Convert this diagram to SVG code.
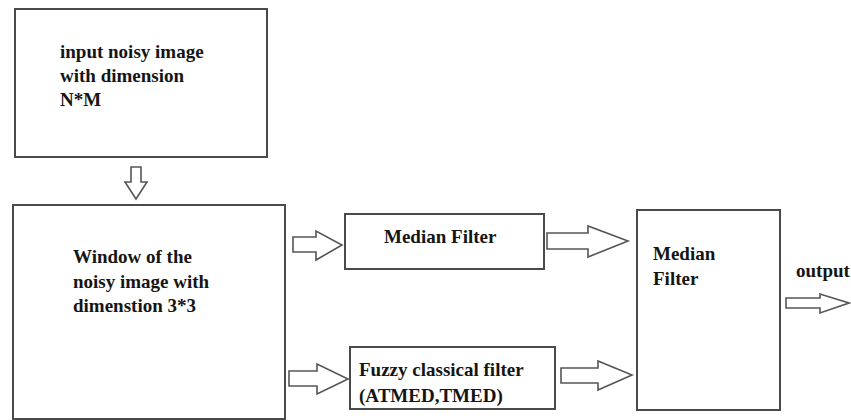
<svg xmlns="http://www.w3.org/2000/svg" width="851" height="420" viewBox="0 0 851 420">
<style>
.box{fill:#fff;stroke:#4a4a4a;stroke-width:2}
.arr{fill:#fff;stroke:#555;stroke-width:1.6;stroke-linejoin:miter}
.t{font-family:'Liberation Serif','Times New Roman',serif;font-weight:bold;font-size:19px;fill:#151515}
</style>
<rect width="851" height="420" fill="#fff"/>
<g id="input">
<rect class="box" x="15" y="9" width="252" height="148"/>
<text class="t" x="60" y="58">input noisy image</text>
<text class="t" x="60" y="82">with dimension</text>
<text class="t" x="60" y="106">N*M</text>
</g>
<g id="window">
<rect class="box" x="13" y="205" width="272" height="214"/>
<text class="t" x="73" y="263">Window of the</text>
<text class="t" x="73" y="288">noisy image with</text>
<text class="t" x="73" y="312">dimenstion 3*3</text>
</g>
<g id="median1">
<rect class="box" x="345" y="214" width="199" height="55"/>
<text class="t" x="384" y="243">Median Filter</text>
</g>
<g id="fuzzy">
<rect class="box" x="350" y="347" width="205" height="62"/>
<text class="t" x="359" y="376">Fuzzy classical filter</text>
<text class="t" x="359" y="402">(ATMED,TMED)</text>
</g>
<g id="median2">
<rect class="box" x="637" y="210" width="143" height="200"/>
<text class="t" x="653" y="260">Median</text>
<text class="t" x="653" y="285">Filter</text>
</g>
<g id="output">
<text class="t" x="796" y="277">output</text>
</g>
<g id="connectors">
<polygon class="arr" points="131,167 141,167 141,182 147,182 136,199 125,182 131,182"/>
<polygon class="arr" points="293,237 316,237 316,231 342,245 316,260 316,252 293,252"/>
<polygon class="arr" points="289,371 317,371 317,364 348,379 317,394 317,386 289,386"/>
<polygon class="arr" points="547,233 588,233 588,226 628,241 588,257 588,249 547,249"/>
<polygon class="arr" points="561,368 598,368 598,361 632,375 598,390 598,383 561,383"/>
<polygon class="arr" points="786,298 820,298 820,294 849,303 820,313 820,308 786,308"/>
</g>
</svg>
